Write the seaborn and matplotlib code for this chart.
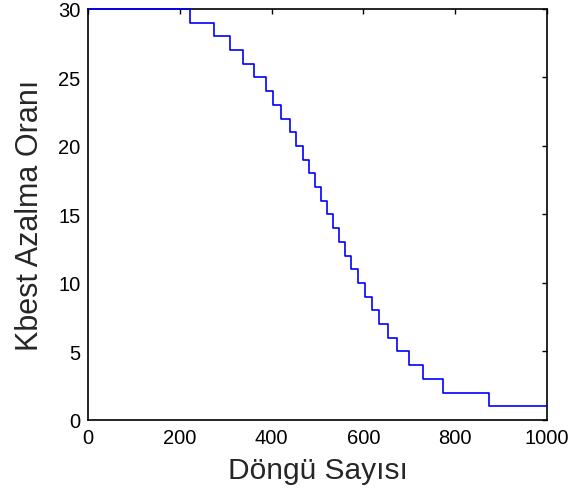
import matplotlib
matplotlib.use("Agg")
import matplotlib.pyplot as plt
import seaborn as sns
import pandas as pd

# Iterations at which Kbest drops by one (30 -> 29, 29 -> 28, ..., 2 -> 1)
drop_iters = [222, 274, 309, 338, 362, 387, 404, 420, 439, 454, 469, 482, 495,
              508, 520, 533, 547, 560, 573, 589, 604, 618, 634, 653, 674, 700,
              729, 773, 874]
kbest_levels = list(range(30, 0, -1))  # 30 ... 1
x_ticks = [0, 200, 400, 600, 800, 1000]
y_ticks = [0, 5, 10, 15, 20, 25, 30]

iters = [0] + drop_iters + [1000]
values = kbest_levels + [kbest_levels[-1]]
df = pd.DataFrame({"iter": iters, "kbest": values})

sns.set_style("white")
plt.rcParams['font.family'] = ['Liberation Sans', 'DejaVu Sans']

fig = plt.figure(figsize=(5.74, 5.02), dpi=100)
ax = fig.add_axes([0.1533, 0.1614, 0.7997, 0.8187])
sns.lineplot(data=df, x="iter", y="kbest", drawstyle="steps-post",
             color="#0000ff", linewidth=1.2, ax=ax)
for ln in ax.lines:
    ln.set_zorder(5)
    ln.set_clip_on(False)

ax.set_xlim(0, 1000)
ax.set_ylim(0, 30)
ax.set_xticks(x_ticks)
ax.set_yticks(y_ticks)
ax.tick_params(direction="in", length=3.5, width=1, top=True, right=True,
               labelsize=14.5, colors="black", pad=5.5)
for s in ax.spines.values():
    s.set_color("black")
    s.set_linewidth(1.2)
    s.set_zorder(2)
ax.set_xlabel("Döngü Sayısı", fontsize=21.5, labelpad=7)
ax.set_ylabel("Kbest Azalma Oranı", fontsize=22, labelpad=9)

fig.savefig("out.png", dpi=100)
